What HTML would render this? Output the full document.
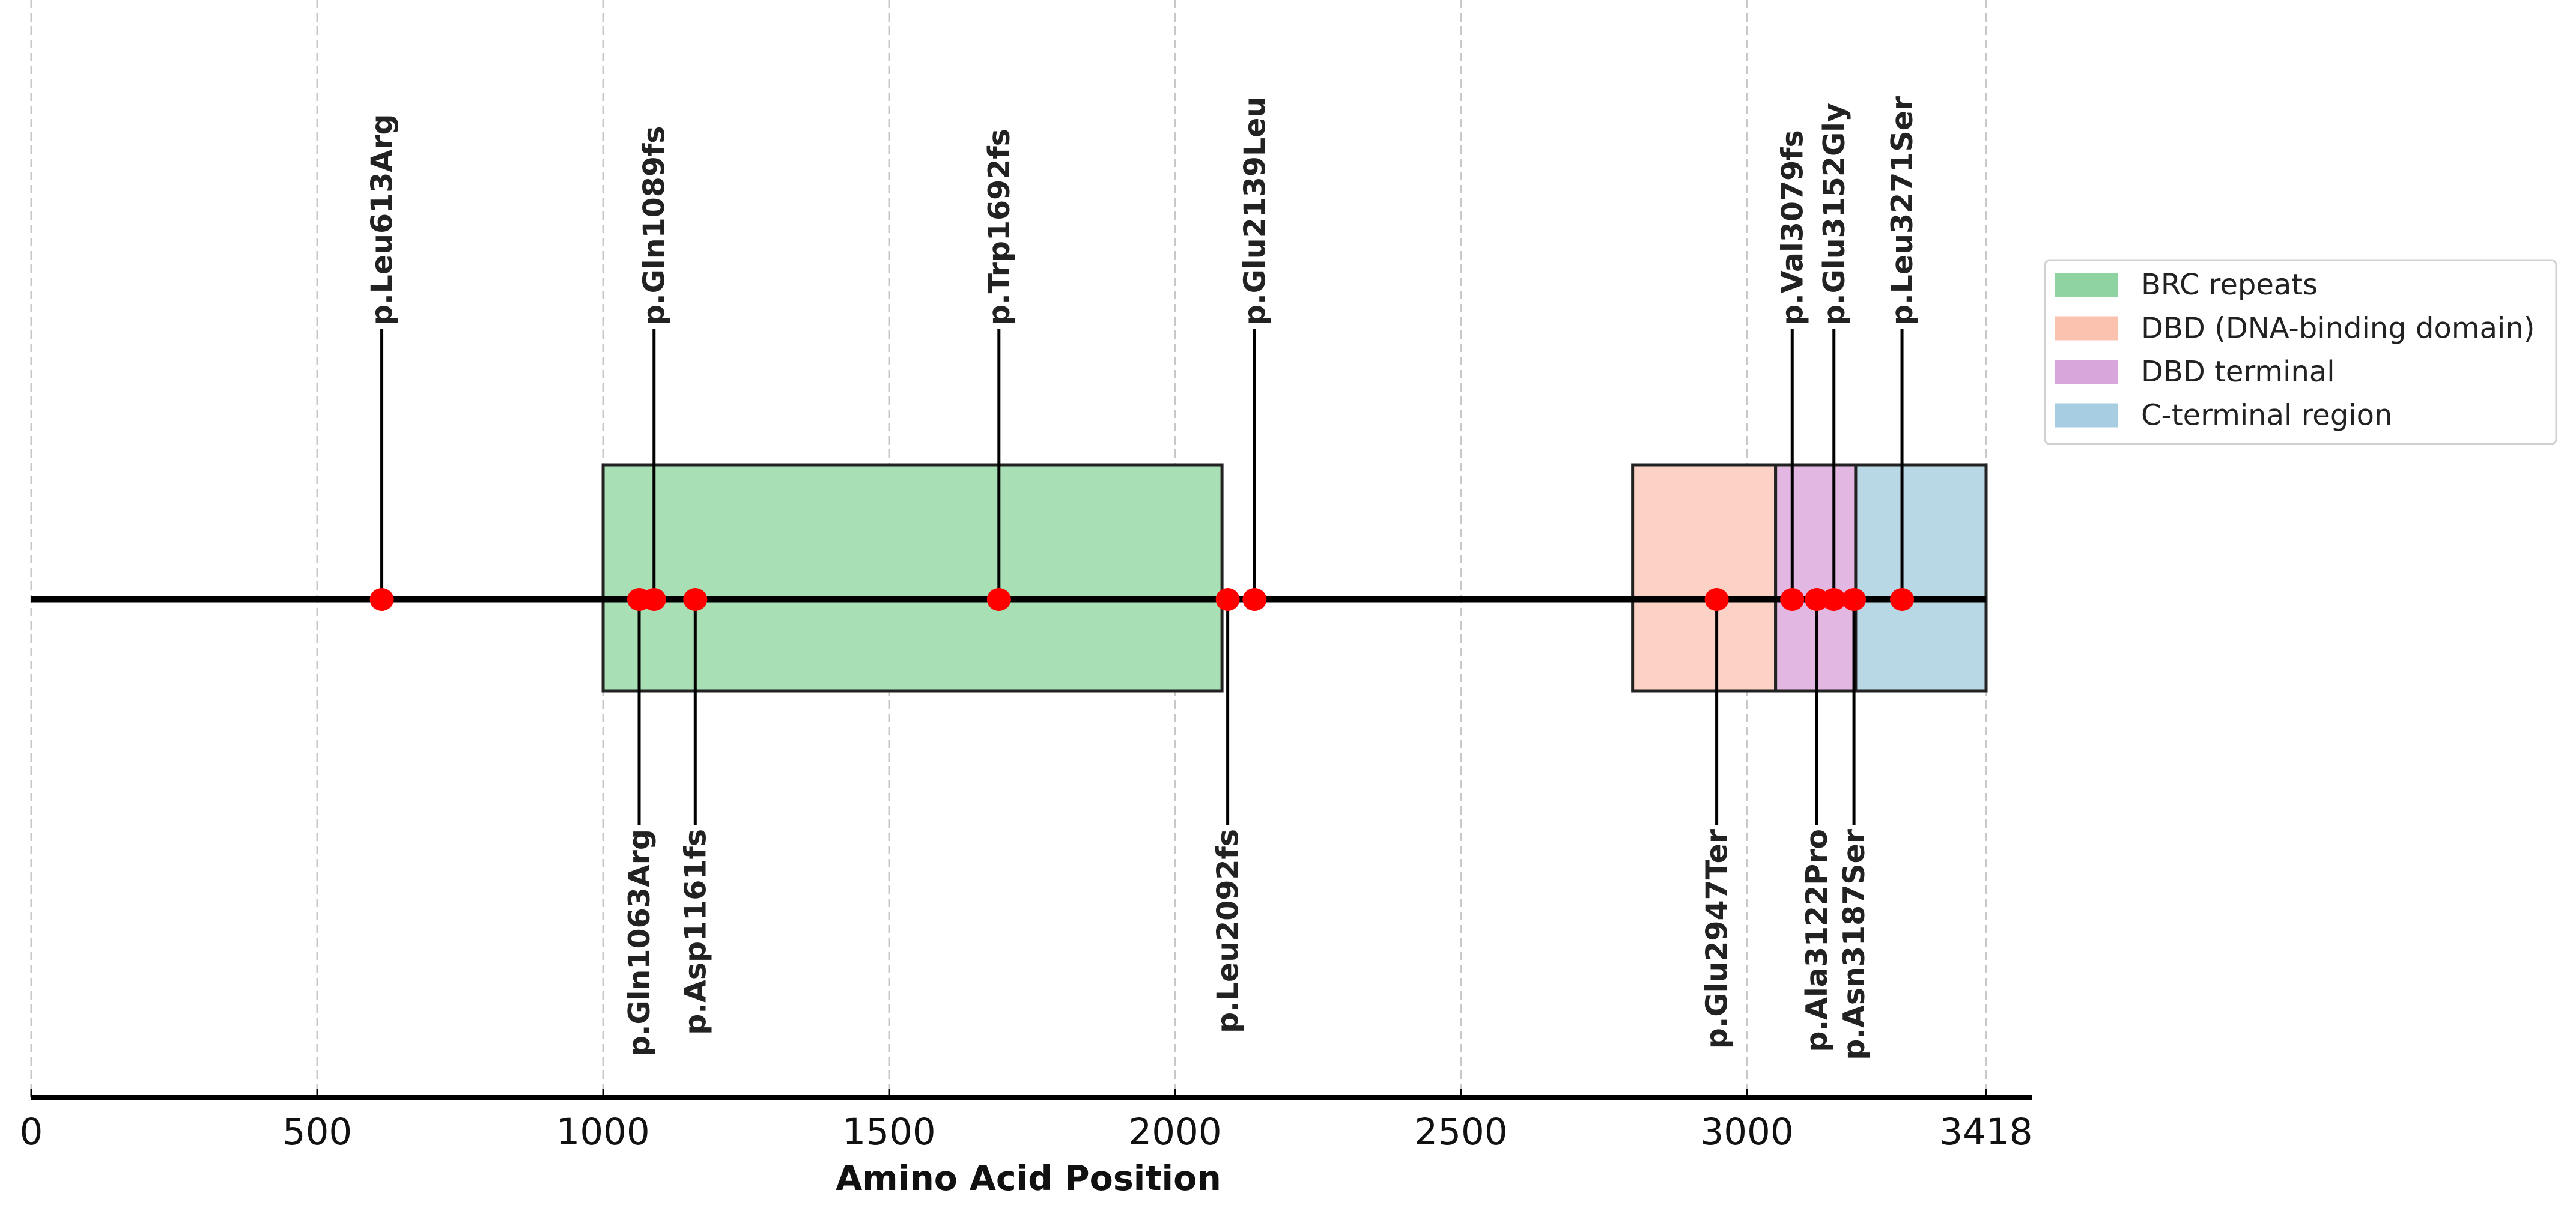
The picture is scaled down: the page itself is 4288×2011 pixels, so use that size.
<!DOCTYPE html>
<html><head><meta charset="utf-8"><style>
html,body{margin:0;padding:0;background:#fff;}
svg{display:block;font-family:"DejaVu Sans","Liberation Sans",sans-serif;}
</style></head><body>
<svg id="chart" width="4288" height="2011" viewBox="0 0 4288 2011" xmlns="http://www.w3.org/2000/svg">
<g id="grid"></g>
<g id="domains"></g>
<line x1="52" y1="998" x2="3306" y2="998" stroke="#000" stroke-width="11"/>
<g id="muts"></g>
<g id="axis"></g>
<text x="1712" y="1981" text-anchor="middle" font-size="57" font-weight="bold" fill="#111">Amino Acid Position</text>
<g id="legend"></g>
</svg>
<script>
const domainNames = ["BRC repeats","DBD (DNA-binding domain)","DBD terminal","C-terminal region"];
const domainStarts = [1000,2800,3050,3190];
const domainEnds = [2082,3050,3190,3418];
const domainColors = ["#a9dfb4","#fdd2c6","#e2b8e2","#b8d8e6"];
const legendColors = ["#8fd4a0","#fcc2b0","#d9a6dc","#a6cde2"];
const mutAboveNames = ["p.Leu613Arg","p.Gln1089fs","p.Trp1692fs","p.Glu2139Leu","p.Val3079fs","p.Glu3152Gly","p.Leu3271Ser"];
const mutAbovePos = [613,1089,1692,2139,3079,3152,3271];
const mutBelowNames = ["p.Gln1063Arg","p.Asp1161fs","p.Leu2092fs","p.Glu2947Ter","p.Ala3122Pro","p.Asn3187Ser"];
const mutBelowPos = [1063,1161,2092,2947,3122,3187];
const tickValues = [0,500,1000,1500,2000,2500,3000,3418];
const tickLabels = ["0","500","1000","1500","2000","2500","3000","3418"];

const NS="http://www.w3.org/2000/svg";
const X0=52, X1=3306, XMAX=3418;
function xs(v){return X0+(X1-X0)*v/XMAX;}
const YB=998, BOXT=774, BOXB=1150, AXY=1827;
function mk(tag,attrs,parent){const e=document.createElementNS(NS,tag);for(const k in attrs)e.setAttribute(k,attrs[k]);parent.appendChild(e);return e;}
const grid=document.getElementById('grid'), dom=document.getElementById('domains'), muts=document.getElementById('muts'), axis=document.getElementById('axis'), legend=document.getElementById('legend');

tickValues.forEach((v,i)=>{
  const g=mk('line',{x1:xs(v),x2:xs(v),y1:0,y2:AXY,stroke:'#c8c8c8','stroke-width':3,'stroke-dasharray':'14,8'},grid);
  
  
  const t=mk('line',{x1:xs(v),x2:xs(v),y1:AXY-14,y2:AXY,stroke:'#000','stroke-width':3},axis);
  
  
  const l=mk('text',{x:xs(v),y:1905,'text-anchor':'middle','font-size':61,fill:'#111'},axis);
  l.textContent=tickLabels[i];
  
  
});
const al=mk('line',{x1:X0,x2:3383,y1:AXY,y2:AXY,stroke:'#000','stroke-width':8},axis);



domainNames.forEach((n,i)=>{
  const r=mk('rect',{x:xs(domainStarts[i]),y:BOXT,width:xs(domainEnds[i])-xs(domainStarts[i]),height:BOXB-BOXT,fill:domainColors[i],stroke:'#222','stroke-width':5},dom);
  
  
});

function drawMut(pos,name,above){
  const x=xs(pos);
  const st=mk('line',{x1:x,x2:x,y1:YB,y2:above?548:1374,stroke:'#000','stroke-width':5},muts);
  
  
  const c=mk('ellipse',{cx:x,cy:YB,rx:20,ry:19,fill:'#ff0000'},muts);
  
  
  const ty=above?542:1380;
  const tx=x+17;
  const t=mk('text',{x:tx,y:ty,transform:'rotate(-90 '+tx+' '+ty+')','text-anchor':above?'start':'end','font-size':49,'font-weight':'bold',fill:'#222'},muts);
  t.textContent=name;
  
  
}
mutAbovePos.forEach((p,i)=>drawMut(p,mutAboveNames[i],true));
mutBelowPos.forEach((p,i)=>drawMut(p,mutBelowNames[i],false));

const lb=mk('rect',{x:3404,y:433,width:851,height:306,rx:8,fill:'#fff',stroke:'#d0d0d0','stroke-width':3},legend);


domainNames.forEach((n,i)=>{
  const cy=474+i*72.5;
  const s=mk('rect',{x:3421,y:cy-20,width:104,height:40,fill:legendColors[i]},legend);
  
  
  const t=mk('text',{x:3564,y:cy+16,'font-size':48,fill:'#222'},legend);
  t.textContent=n;
  
  
});
</script>
</body></html>
